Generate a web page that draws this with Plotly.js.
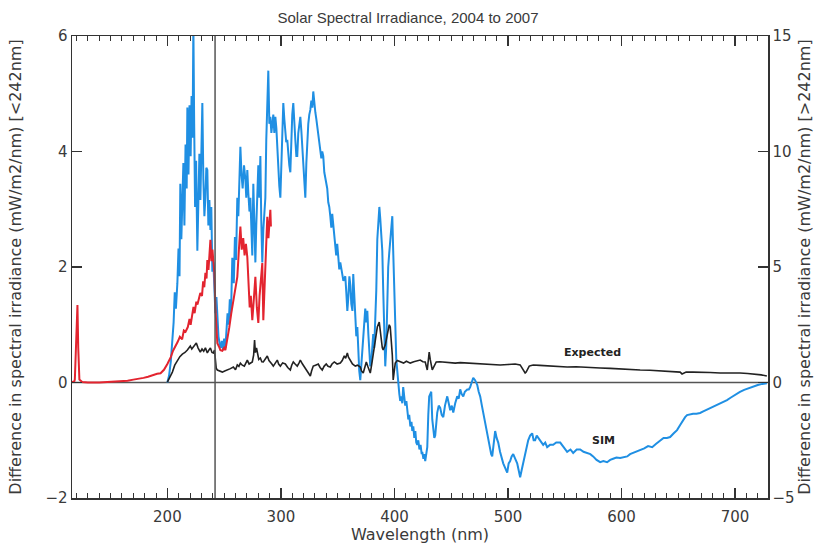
<!DOCTYPE html>
<html>
<head>
<meta charset="utf-8">
<script src="https://cdn.plot.ly/plotly-3.0.1.min.js"></script>
<style>html,body{margin:0;padding:0;background:#fff;}#chart{width:816px;height:544px;}</style>
</head>
<body>
<div id="chart"></div>
<script>
// ---- data ----
const splitWavelength = 242;

// Red series, left axis units (<242nm scale)
const redWavelength = [116,118,118.5,120,120.8,121.5,122.5,125,130,140,150,160,165,170,175,179,183,187,191,194,197,200,203,205,207,209,211,213,214.5,216,218,219.5,220.5,222,223,224,225.5,226.5,228,229,230.5,231.5,232.5,233.5,234.5,235.2,236.2,237,237.9,238.8,239.7,240.5,241.4,242.3,243.2,244,245.5,246.7,248.4,250,251.1,252.8,254.5,256.3,258.1,259.8,261.6,263,264.3,265.5,266.8,268,269.2,270.4,271.5,272.5,273.5,274.8,276,277.5,278.8,280.1,281.2,282.5,283.6,284.5,285.5,286.6,288,289,290,290.7,291.2];
const redDiff = [0.01,0.02,0.05,0.9,1.34,0.6,0.05,0.01,0.0,0.0,0.01,0.02,0.03,0.05,0.06,0.08,0.1,0.13,0.15,0.16,0.22,0.32,0.44,0.55,0.62,0.7,0.79,0.75,0.9,0.88,0.96,1.1,1.0,1.25,1.31,1.2,1.4,1.35,1.5,1.55,1.5,1.75,1.65,1.9,1.8,2.12,1.95,2.2,2.47,2.1,2.3,2.1,1.9,1.3,0.9,0.68,0.62,0.56,0.55,0.6,0.56,0.74,0.95,1.2,1.43,1.6,1.83,2.3,2.7,2.3,2.5,2.2,2.4,2.17,1.7,1.3,1.5,1.08,1.4,1.83,1.3,1.03,1.5,1.9,2.07,1.08,1.6,2.3,2.87,2.5,2.9,2.99,2.7];

// SIM (blue) series, right axis units (>242nm scale)
const simWavelength = [200,201.5,203,204.4,205.5,206.5,207.5,208.8,209.8,210.7,211.4,212.3,213.2,214.1,215,216,217,217.6,218.6,219.5,220.5,221.3,222.2,222.9,223.6,224.4,225.3,226.4,227.3,228.2,229.1,230,230.8,231.7,232.6,233.5,234.3,235.2,236.1,237,237.9,238.7,239.6,240.5,241.4,242.3,243.2,244,245,246,247,248,249,250,251.1,252,253,254,255,256,257.2,258.5,259.5,260.5,261.6,262.5,263.5,264.3,265.3,266.3,267.5,268.7,269.5,270.4,271.3,272.3,273.1,274,274.8,275.7,276.6,277.5,278.3,279.2,280.1,281,281.9,282.7,283.6,284.5,285.4,286.3,287.1,288,288.9,289.8,290.7,291.6,292.4,293.3,294.2,295.1,296,296.8,297.7,298.6,299.5,300.4,301.2,302.1,303,303.9,304.7,305.6,306.5,307.4,308.3,309.2,310,310.9,311.8,312.7,313.6,314.4,315.3,316.2,317.1,318,318.8,319.7,320.6,321.5,322.4,323.2,324.1,325,325.9,326.8,327.7,328.5,329.4,330.3,331.2,332,332.9,333.8,334.7,335.6,336.4,337.3,338.2,339.1,340,340.8,341.7,342.6,343.5,344.4,345.2,346.1,347,347.9,348.7,349.6,350.5,351.4,352.3,353.2,354,355,356.7,357.6,358.5,359.4,360.3,361.2,362,363,363.7,364.5,365.5,366.4,367.3,368.2,369,369.9,370.8,371.6,372.5,373.4,374.3,375.2,376.1,377,377.9,378.7,379.6,380.4,381.3,382.2,383.1,384,384.9,385.8,386.7,387.5,388.4,389.3,390.1,391,391.9,392.8,393.7,394.5,395.4,396.3,397.2,398.1,398.9,399.8,400.7,401.6,402.5,403.4,404.3,405.1,406,406.9,407.7,408.6,409.5,410.5,411.3,412.2,413,414,415,415.7,416.6,417.5,418.4,419.2,420.1,421,422,423,424,424.5,425.5,426.3,427.1,428,428.9,429.8,430.6,431.5,432.4,433.3,434.2,435.1,435.9,436.8,437.7,439,440.3,441.6,443,444.5,446.5,447.8,449.1,450.5,451.8,453.5,455.3,456.6,457.9,459.2,460.6,462,464.1,465.5,466.7,468,469.4,471,472.9,474.2,475.5,477,478.2,480,481.7,483,484.3,485.2,486.1,487.4,488.7,490,491.4,493,494.5,495.8,497.5,499.3,500.6,501.9,503.2,504.6,506.3,508.1,509.4,510.7,512,513.4,515.5,517.8,519.5,521.3,522.6,523.9,525.3,526.6,528.5,531,532.8,534.5,537,539.8,542.5,546,549,552.1,555,557.4,560.5,563.6,566.5,569.7,572.5,575,578,581.2,584,587.3,590,592.6,595.5,598.8,602,605,607.5,610.2,613.5,616.4,620,623.4,627,630.5,634,637,640,642.8,646,648.9,651.5,654.2,656,657.7,660,663,666,669.2,672,675,678,680.6,684,687,690,692.9,696,699,701.5,704.3,708,712,716,720,724,728];
const simDiff = [0.0,0.3,0.9,1.7,2.6,3.9,3.2,4.3,5.8,4.6,8.6,6.2,8.2,9.5,6.8,10.3,8.4,11.9,9.0,12.0,9.8,12.4,10.6,15.5,11.2,7.6,9.6,5.7,7.8,9.9,7.9,10.6,12.1,8.8,7.2,8.0,9.3,9.2,6.8,7.9,6.6,7.6,4.8,5.2,3.6,3.0,3.7,2.6,2.0,1.7,1.5,1.8,1.4,1.9,1.5,2.2,3.0,2.5,3.6,2.9,5.4,4.3,6.3,5.3,8.0,7.2,9.3,10.2,9.0,8.4,9.4,8.8,8.0,9.2,8.2,7.4,8.0,6.2,5.5,8.6,6.0,5.2,6.8,8.0,9.4,8.0,9.8,7.0,5.2,6.6,7.6,8.0,10.5,12.2,13.5,11.2,11.5,10.8,11.2,11.6,10.8,11.5,11.0,10.0,9.3,8.5,8.0,9.2,10.8,12.1,11.4,11.0,10.4,10.5,9.8,9.4,9.1,10.5,11.6,12.1,10.9,10.5,9.8,9.8,10.8,11.3,11.5,10.9,10.1,9.2,8.5,8.0,9.5,10.6,11.2,11.6,11.8,12.2,11.9,12.6,11.9,11.7,11.4,11.1,10.7,10.2,10.1,9.7,10.0,9.8,9.1,8.9,8.6,8.4,7.8,7.6,7.2,6.7,7.3,6.8,6.2,6.0,5.5,6.0,5.3,4.9,5.2,4.8,4.7,4.4,4.6,3.9,3.1,3.7,4.6,4.2,3.4,3.1,4.7,3.9,2.9,2.0,2.4,1.2,0.5,0.1,0.8,1.6,2.2,3.0,3.2,2.6,3.1,2.1,1.5,0.7,0.9,1.4,2.1,1.5,2.6,4.0,6.2,6.9,7.6,7.1,6.4,5.7,4.0,2.5,0.7,1.6,3.5,5.0,5.6,6.3,7.0,7.2,5.7,4.5,2.6,1.0,0.4,-0.2,-0.5,-0.8,-0.6,-0.9,-0.2,-0.6,-1.0,-0.8,-1.1,-1.6,-1.4,-1.9,-1.7,-2.1,-1.9,-2.4,-2.1,-2.6,-2.7,-2.5,-2.9,-2.7,-3.1,-3.0,-3.3,-3.1,-3.4,-3.0,-2.8,-1.4,-0.6,-0.5,-0.4,-1.6,-2.1,-2.4,-2.3,-1.8,-1.3,-1.0,-1.1,-1.4,-1.5,-1.0,-0.6,-0.9,-1.2,-1.0,-1.3,-0.9,-0.6,-0.7,-0.3,-0.5,-0.6,-0.4,-0.3,-0.3,-0.2,0.0,0.2,0.1,-0.1,-0.4,-0.6,-1.0,-1.3,-1.8,-2.2,-2.6,-2.9,-3.1,-3.2,-2.5,-2.1,-2.4,-2.6,-3.0,-3.3,-3.5,-3.7,-3.9,-3.5,-3.4,-3.2,-3.1,-3.3,-3.5,-3.8,-4.1,-3.8,-3.5,-3.0,-2.5,-2.3,-2.2,-2.5,-2.5,-2.3,-2.4,-2.5,-2.7,-2.6,-2.8,-2.7,-2.7,-2.6,-2.6,-2.8,-3.0,-2.9,-3.05,-2.9,-2.9,-3.0,-3.05,-3.1,-3.2,-3.35,-3.45,-3.4,-3.45,-3.35,-3.3,-3.25,-3.27,-3.22,-3.2,-3.1,-3.05,-3.0,-2.92,-2.85,-2.75,-2.8,-2.65,-2.5,-2.4,-2.4,-2.36,-2.2,-2.06,-1.85,-1.62,-1.5,-1.41,-1.38,-1.35,-1.35,-1.32,-1.25,-1.18,-1.12,-1.06,-0.97,-0.88,-0.82,-0.76,-0.66,-0.56,-0.48,-0.41,-0.32,-0.24,-0.17,-0.11,-0.06,-0.03];

// Expected (black) series, right axis units
const expWavelength = [200,202,204.4,206.5,208.8,211,213.2,215.5,217.6,219,220.2,221.5,222.9,224.3,225.5,227,229,230.5,232,233.5,235.2,236.5,237.9,239.3,240.5,241.5,242.3,243,244,246,248.4,250.5,252.8,255.5,258.1,260,261.6,263,264.3,266,267.8,269,270.4,272,273.5,274.8,276,276.8,277.5,278.5,279.2,280.5,281.9,283.2,284.5,286,288,289.5,290.7,292,293.3,295,296.8,298,299.5,301.5,303.9,306,308.3,309.5,310.9,312.5,314.4,316,317.1,319,321.5,323.5,325.9,327,328.5,330.5,332.9,334.5,336.4,338,339.9,341.5,343.5,345,347,349.5,352.3,354,355.8,357,358.5,359.5,361.1,363,365.5,367.5,369.9,371,372.5,373.8,375.2,376.5,378.7,380,381.3,383,384.9,386.6,387.5,388.4,389.3,390.1,391,391.9,393,394.5,395.4,396.3,397.2,398.1,398.9,399.8,400.7,402.5,405.1,408,410.5,413.9,417,420,422.7,425,427.1,428.9,429.8,430.6,431.5,432.4,433.3,434.2,435.5,436.8,440,443,448,453.5,458,464.1,470,475.5,482,487,493.1,500,506.3,510.7,513,515.1,516,516.9,518.7,520.5,522.2,528,537.1,545,552.1,560,568,575,581.2,590,598.8,607,616.4,625,634,643,651.6,653.3,655,656.9,663,669.2,678,686.8,695,704.3,711,717.5,723,728];
const expDiff = [0.02,0.2,0.45,0.75,0.97,1.12,1.23,1.3,1.41,1.5,1.58,1.45,1.54,1.62,1.71,1.5,1.32,1.45,1.35,1.5,1.28,1.4,1.49,1.3,1.28,1.4,1.06,0.62,0.54,0.5,0.45,0.5,0.54,0.6,0.67,0.55,0.76,0.7,0.84,0.75,0.71,0.85,0.97,0.8,0.85,0.89,1.2,1.84,1.3,1.5,1.32,1.0,1.06,0.9,0.89,1.0,1.15,0.95,0.89,0.8,0.71,0.85,0.97,0.8,0.71,0.85,0.8,0.65,0.54,0.75,0.89,0.8,0.71,0.85,0.97,0.8,0.63,0.45,0.28,0.5,0.71,0.75,0.8,0.65,0.54,0.7,0.8,0.7,0.67,0.8,0.89,0.8,0.84,0.95,1.15,1.05,1.28,1.1,0.97,0.8,0.71,0.75,0.67,0.5,0.41,0.6,0.89,0.7,0.41,0.8,1.19,1.9,2.4,2.62,2.2,1.84,1.5,1.41,1.5,1.62,1.9,2.27,2.5,2.4,1.8,1.19,0.11,0.5,0.84,0.95,0.89,0.84,0.92,0.84,0.9,0.95,0.97,0.9,0.89,0.54,0.9,1.32,1.0,0.71,0.55,0.63,0.8,0.89,0.9,0.89,0.86,0.84,0.86,0.84,0.82,0.8,0.8,0.78,0.76,0.78,0.8,0.76,0.6,0.41,0.45,0.54,0.71,0.74,0.76,0.74,0.71,0.7,0.67,0.68,0.67,0.64,0.63,0.61,0.58,0.57,0.54,0.53,0.5,0.48,0.45,0.37,0.42,0.45,0.45,0.45,0.43,0.41,0.42,0.41,0.39,0.37,0.33,0.28];

const titleText = 'Solar Spectral Irradiance, 2004 to 2007';
const xTitle = 'Wavelength (nm)';
const yLeftTitle = 'Difference in spectral irradiance (mW/m2/nm) [&lt;242nm]';
const yRightTitle = 'Difference in spectral irradiance (mW/m2/nm) [&gt;242nm]';
const leftRange = [-2, 6];
const rightRange = [-5, 15];
const xRange = [116, 729];
const labelExpected = {text: 'Expected', x: 574, y: 1.32};
const labelSim = {text: 'SIM', x: 584, y: -2.53};

// ---- drawing ----
const textColor = '#3a3a3a';
const axisColor = '#333333';
const tickFont = {family: 'DejaVu Sans', size: 15, color: textColor};
const axisTitleFont = {family: 'DejaVu Sans', size: 16, color: textColor};

const traces = [
  {x: simWavelength, y: simDiff, yaxis: 'y2', type: 'scatter', mode: 'lines',
   line: {color: '#1f8fe3', width: 2}, hoverinfo: 'skip', name: 'SIM'},
  {x: expWavelength, y: expDiff, yaxis: 'y2', type: 'scatter', mode: 'lines',
   line: {color: '#222222', width: 1.6}, hoverinfo: 'skip', name: 'Expected'},
  {x: redWavelength, y: redDiff, yaxis: 'y', type: 'scatter', mode: 'lines',
   line: {color: '#e3242f', width: 2}, hoverinfo: 'skip', name: 'SOLSTICE'}
];

const layout = {
  width: 816, height: 544,
  margin: {l: 72, r: 48, t: 36, b: 46},
  paper_bgcolor: '#ffffff', plot_bgcolor: '#ffffff',
  showlegend: false,
  title: {text: titleText, x: 0.5, xref: 'container', y: 0.967, yref: 'container', yanchor: 'middle',
          font: {family: 'Liberation Sans', size: 15, color: textColor}},
  xaxis: {
    range: xRange, tick0: 0, dtick: 100, ticks: 'inside', ticklen: 10, tickwidth: 1.3, tickcolor: axisColor,
    showline: true, linecolor: axisColor, linewidth: 1.5, mirror: 'ticks',
    showgrid: false, zeroline: false, tickfont: tickFont, ticklabelstandoff: 4,
    minor: {tick0: 0, dtick: 10, ticks: 'inside', ticklen: 5, tickwidth: 1, tickcolor: axisColor, showgrid: false},
    title: {text: xTitle, font: axisTitleFont, standoff: 4}
  },
  yaxis2: {
    range: rightRange, tickvals: [-5, 0, 5, 10, 15], side: 'right', anchor: 'x',
    ticks: 'inside', ticklen: 10, tickwidth: 1.3, tickcolor: axisColor,
    showline: true, linecolor: axisColor, linewidth: 1.5,
    showgrid: false, zeroline: false, tickfont: tickFont,
    title: {text: yRightTitle, font: axisTitleFont, standoff: 4}
  },
  yaxis: {
    range: leftRange, tickvals: [-2, 0, 2, 4, 6], side: 'left', overlaying: 'y2', anchor: 'x',
    ticks: 'inside', ticklen: 10, tickwidth: 1.3, tickcolor: axisColor,
    showline: true, linecolor: axisColor, linewidth: 1.5,
    showgrid: false, zeroline: false, tickfont: tickFont,
    title: {text: yLeftTitle, font: axisTitleFont, standoff: 20}
  },
  shapes: [
    {type: 'line', xref: 'x', yref: 'paper', x0: splitWavelength, x1: splitWavelength, y0: 0, y1: 1,
     line: {color: '#555555', width: 1.5}, layer: 'above'},
    {type: 'line', xref: 'paper', yref: 'y2', x0: 0, x1: 1, y0: 0, y1: 0,
     line: {color: '#555555', width: 1.5}, layer: 'below'}
  ],
  annotations: [
    {x: labelExpected.x, y: labelExpected.y, xref: 'x', yref: 'y2', text: '<b>' + labelExpected.text + '</b>',
     showarrow: false, font: {family: 'DejaVu Sans', size: 11, color: '#222'}},
    {x: labelSim.x, y: labelSim.y, xref: 'x', yref: 'y2', text: '<b>' + labelSim.text + '</b>',
     showarrow: false, font: {family: 'DejaVu Sans', size: 11, color: '#222'}}
  ]
};

Plotly.newPlot('chart', traces, layout, {displayModeBar: false, staticPlot: true});
</script>
</body>
</html>
